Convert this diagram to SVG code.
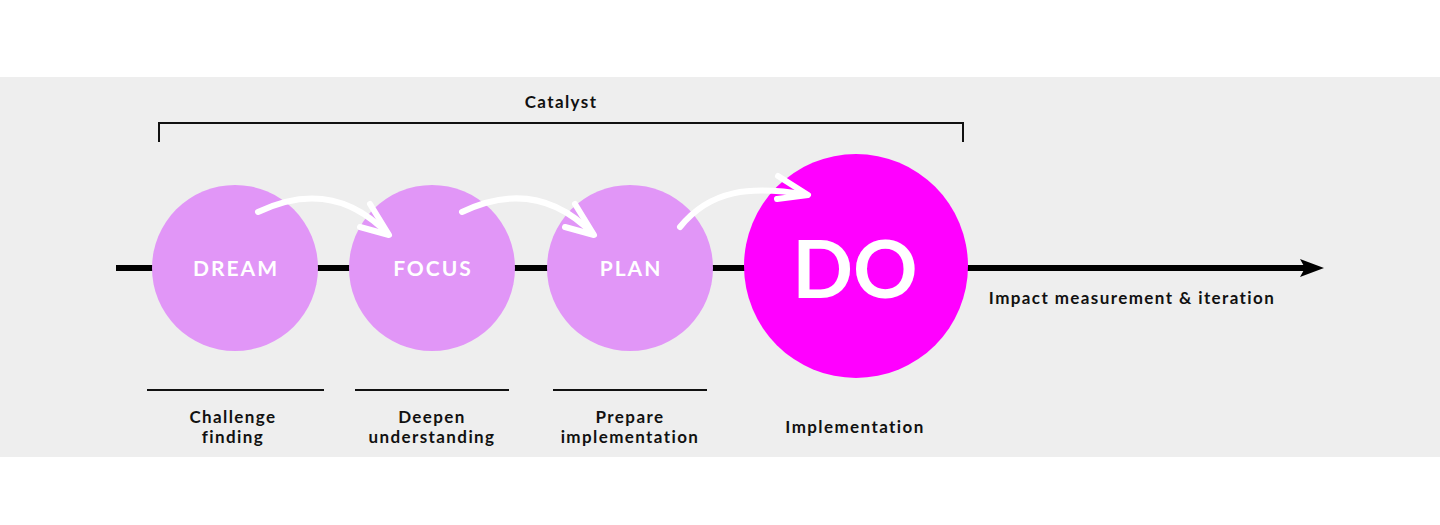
<svg xmlns="http://www.w3.org/2000/svg" width="1440" height="525" viewBox="0 0 1440 525">
<style>
.lbl{font-family:"Lato","Open Sans",sans-serif;font-weight:700;font-size:17px;fill:#111;text-anchor:middle;letter-spacing:1.4px}
.nt{font-family:"Lato","Open Sans",sans-serif;font-weight:700;fill:#fff;text-anchor:middle}
.nl{font-size:21px;letter-spacing:2px}
.small{fill:#e196f7}
.ul{stroke:#111;stroke-width:2}
.curve{fill:none;stroke:#fff;stroke-width:6;stroke-linecap:round;stroke-linejoin:round}
</style>
<rect x="0" y="0" width="1440" height="525" fill="#fff"/>
<rect x="0" y="77" width="1440" height="380" fill="#eeeeee"/>
<g id="timeline">
<line x1="116" y1="268" x2="1310" y2="268" stroke="#000" stroke-width="6"/>
<path d="M1300,259 L1324,268 L1300,277 L1305,268 z" fill="#000"/>
</g>
<g id="catalyst">
<path d="M159,142 V123 H963 V142" fill="none" stroke="#111" stroke-width="2"/>
<text class="lbl" x="561" y="108">Catalyst</text>
</g>
<g id="dream">
<circle class="small" cx="235" cy="268" r="83"/>
<text class="nt nl" x="236" y="276">DREAM</text>
</g>
<g id="focus">
<circle class="small" cx="432" cy="268" r="83"/>
<text class="nt nl" x="433" y="276">FOCUS</text>
</g>
<g id="plan">
<circle class="small" cx="630" cy="268" r="83"/>
<text class="nt nl" x="631" y="276">PLAN</text>
</g>
<g id="do">
<circle cx="856" cy="266" r="112" fill="#ff00ff"/>
<text class="nt" x="855" y="298" font-size="80">DO</text>
</g>
<g id="connectors">
<path class="curve" d="M258,212 C300,192 345,190 388,234"/>
<path class="curve" d="M370,204 L389,235 L360,227"/>
<path class="curve" d="M462,212 C504,192 550,190 593,234"/>
<path class="curve" d="M575,204 L594,235 L565,227"/>
<path class="curve" d="M680,227 C710,190 750,185 807,195"/>
<path class="curve" d="M778,176 L808,195 L777,199"/>
</g>
<g id="labels">
<line class="ul" x1="147" y1="390" x2="324" y2="390"/>
<line class="ul" x1="355" y1="390" x2="509" y2="390"/>
<line class="ul" x1="553" y1="390" x2="707" y2="390"/>
<text class="lbl" x="233" y="423">Challenge</text>
<text class="lbl" x="233" y="443">finding</text>
<text class="lbl" x="432" y="423">Deepen</text>
<text class="lbl" x="432" y="443">understanding</text>
<text class="lbl" x="630" y="423">Prepare</text>
<text class="lbl" x="630" y="443">implementation</text>
<text class="lbl" x="855" y="433">Implementation</text>
<text class="lbl" x="1132" y="304">Impact measurement &amp; iteration</text>
</g>
</svg>
